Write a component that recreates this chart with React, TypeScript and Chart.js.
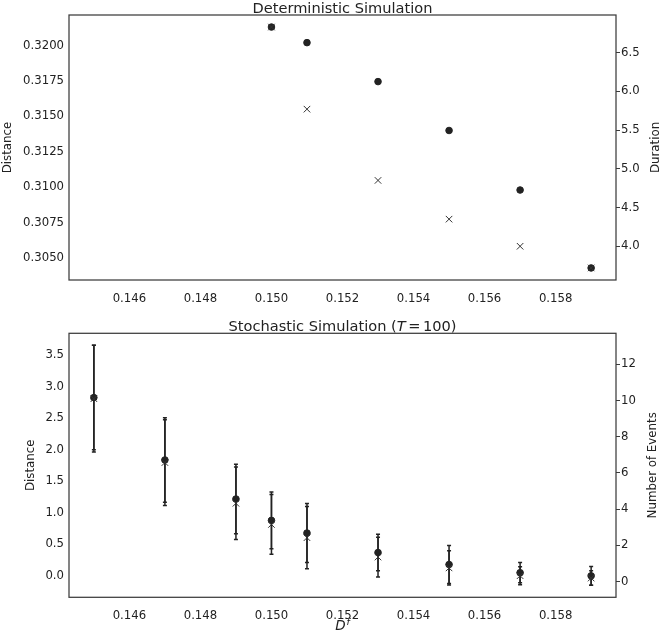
import React, { useEffect, useRef } from "react";
import { Chart, registerables } from "chart.js";

Chart.register(...registerables);

// ---------- data ----------
const xTickValues = [0.146, 0.148, 0.15, 0.152, 0.154, 0.156, 0.158];

const detX = [0.15, 0.151, 0.153, 0.155, 0.157, 0.159];
const detDistance = [0.3213, 0.3202, 0.31745, 0.314, 0.3098, 0.3043];
const detDuration = [6.83, 5.77, 4.85, 4.35, 4.0, 3.72];
const detDistanceTicks = [0.305, 0.3075, 0.31, 0.3125, 0.315, 0.3175, 0.32];
const detDurationTicks = [4.0, 4.5, 5.0, 5.5, 6.0, 6.5];

const stoX = [0.145, 0.147, 0.149, 0.15, 0.151, 0.153, 0.155, 0.157, 0.159];
const stoDistance = [2.83, 1.84, 1.22, 0.88, 0.68, 0.37, 0.18, 0.05, 0.0];
const stoDistanceErr = [0.83, 0.67, 0.55, 0.45, 0.47, 0.29, 0.3, 0.16, 0.15];
const stoEvents = [10.1, 6.57, 4.32, 3.15, 2.42, 1.35, 0.75, 0.32, 0.19];
const stoEventsErr = [2.95, 2.37, 2.0, 1.65, 1.72, 1.1, 0.95, 0.5, 0.4];
const stoDistanceTicks = [0, 0.5, 1.0, 1.5, 2.0, 2.5, 3.0, 3.5];
const stoEventsTicks = [0, 2, 4, 6, 8, 10, 12];

// ---------- style ----------
const FONT = '"DejaVu Sans", sans-serif';
const INK = "#222222";
const FRAME = "#3c3c3c";
const TICK_SIZE = 11.7;
const LABEL_SIZE = 11.8;
const TITLE_SIZE = 14.6;

function padRange(values: number[]): [number, number] {
  const lo = Math.min(...values);
  const hi = Math.max(...values);
  const m = (hi - lo) * 0.05;
  return [lo - m, hi + m];
}

const [xMin, xMax] = padRange(stoX);

function pts(xs: number[], ys: number[]) {
  return xs.map((x, i) => ({ x, y: ys[i] }));
}

const errorBarPlugin = {
  id: "errorBars",
  beforeDatasetsDraw(chart: any) {
    const ctx = chart.ctx;
    chart.data.datasets.forEach((ds: any, i: number) => {
      if (!ds.errors) return;
      const meta = chart.getDatasetMeta(i);
      const xs = chart.scales[meta.xAxisID];
      const ys = chart.scales[meta.yAxisID];
      ctx.save();
      ctx.strokeStyle = INK;
      ctx.lineWidth = 1.5;
      ds.data.forEach((p: any, j: number) => {
        const e = ds.errors[j];
        const px = xs.getPixelForValue(p.x);
        const y1 = ys.getPixelForValue(p.y - e);
        const y2 = ys.getPixelForValue(p.y + e);
        ctx.beginPath();
        ctx.moveTo(px, y1);
        ctx.lineTo(px, y2);
        ctx.moveTo(px - 2, y1);
        ctx.lineTo(px + 2, y1);
        ctx.moveTo(px - 2, y2);
        ctx.lineTo(px + 2, y2);
        ctx.stroke();
      });
      ctx.restore();
    });
  },
};

function drawVertical(ctx: CanvasRenderingContext2D, text: string, xBase: number, yCenter: number) {
  ctx.save();
  ctx.translate(xBase, yCenter);
  ctx.rotate(-Math.PI / 2);
  ctx.font = `${LABEL_SIZE}px ${FONT}`;
  ctx.fillStyle = INK;
  ctx.textAlign = "center";
  ctx.textBaseline = "alphabetic";
  ctx.fillText(text, 0, 0);
  ctx.restore();
}

type Part = { t: string; italic?: boolean; gap?: number };

function drawParts(ctx: CanvasRenderingContext2D, parts: Part[], cx: number, baseline: number, size: number) {
  ctx.save();
  ctx.fillStyle = INK;
  ctx.textBaseline = "alphabetic";
  ctx.textAlign = "left";
  let total = 0;
  const widths = parts.map((p) => {
    ctx.font = `${p.italic ? "italic " : ""}${size}px ${FONT}`;
    const w = ctx.measureText(p.t).width + (p.gap || 0) * 2;
    total += w;
    return w;
  });
  let x = cx - total / 2;
  parts.forEach((p, i) => {
    ctx.font = `${p.italic ? "italic " : ""}${size}px ${FONT}`;
    ctx.fillText(p.t, x + (p.gap || 0), baseline);
    x += widths[i];
  });
  ctx.restore();
}

function makeDecor(opts: {
  title: Part[];
  leftLabel: string;
  leftX: number;
  rightLabel: string;
  rightX: number;
  xLabel?: boolean;
}) {
  return {
    id: "decor",
    afterDraw(chart: any) {
      const ctx: CanvasRenderingContext2D = chart.ctx;
      const a = chart.chartArea;
      ctx.save();
      ctx.strokeStyle = FRAME;
      ctx.lineWidth = 1.25;
      ctx.strokeRect(a.left, a.top, a.right - a.left, a.bottom - a.top);
      ctx.restore();
      const cx = (a.left + a.right) / 2;
      const cy = (a.top + a.bottom) / 2;
      drawParts(ctx, opts.title, cx, a.top - 2.5, TITLE_SIZE);
      drawVertical(ctx, opts.leftLabel, opts.leftX, cy);
      drawVertical(ctx, opts.rightLabel, opts.rightX, cy);
      if (opts.xLabel) {
        ctx.save();
        ctx.fillStyle = INK;
        ctx.textAlign = "left";
        ctx.textBaseline = "alphabetic";
        ctx.font = `italic 13.5px ${FONT}`;
        const dW = ctx.measureText("D").width;
        ctx.font = `italic 9.5px ${FONT}`;
        const fW = ctx.measureText("f").width;
        const x0 = cx - (dW + fW + 1) / 2;
        const base = chart.height - 6;
        ctx.font = `italic 13.5px ${FONT}`;
        ctx.fillText("D", x0, base);
        ctx.font = `italic 9.5px ${FONT}`;
        ctx.fillText("f", x0 + dW + 1, base - 5.5);
        ctx.restore();
      }
    },
  };
}

function tickFont() {
  return { family: FONT, size: TICK_SIZE };
}

function xScale(height: number) {
  return {
    type: "linear",
    position: "bottom",
    min: xMin,
    max: xMax,
    afterBuildTicks: (s: any) => {
      s.ticks = xTickValues.map((v) => ({ value: v }));
    },
    afterFit: (s: any) => {
      s.height = height;
    },
    grid: { display: false },
    border: { display: false },
    ticks: {
      font: tickFont(),
      color: INK,
      padding: 3.5,
      maxRotation: 0,
      autoSkip: false,
      callback: (v: any) => Number(v).toFixed(3),
    },
  };
}

function leftScale(range: [number, number], tickVals: number[], digits: number) {
  return {
    type: "linear",
    position: "left",
    min: range[0],
    max: range[1],
    afterBuildTicks: (s: any) => {
      s.ticks = tickVals.map((v) => ({ value: v }));
    },
    afterFit: (s: any) => {
      s.width = 69;
    },
    grid: { display: false, drawTicks: false },
    border: { display: false },
    ticks: {
      font: tickFont(),
      color: INK,
      padding: 5,
      autoSkip: false,
      callback: (v: any) => Number(v).toFixed(digits),
    },
  };
}

function rightScale(range: [number, number], tickVals: number[], digits: number) {
  return {
    type: "linear",
    position: "right",
    min: range[0],
    max: range[1],
    afterBuildTicks: (s: any) => {
      s.ticks = tickVals.map((v) => ({ value: v }));
    },
    afterFit: (s: any) => {
      s.width = 44;
    },
    grid: {
      display: true,
      drawOnChartArea: false,
      drawTicks: true,
      tickLength: 4,
      color: FRAME,
      lineWidth: 1,
    },
    border: { display: false },
    ticks: {
      font: tickFont(),
      color: INK,
      padding: 1,
      autoSkip: false,
      callback: (v: any) => Number(v).toFixed(digits),
    },
  };
}

const circleStyle = {
  pointStyle: "circle",
  pointRadius: 3.3,
  pointBackgroundColor: INK,
  pointBorderColor: INK,
  pointBorderWidth: 1,
  showLine: false,
};

const crossStyle = {
  pointStyle: "crossRot",
  pointRadius: 4.6,
  pointBorderColor: "#333333",
  pointBackgroundColor: "#333333",
  pointBorderWidth: 1,
  showLine: false,
};

function topConfig(): any {
  return {
    type: "scatter",
    data: {
      datasets: [
        { label: "Duration", data: pts(detX, detDuration), yAxisID: "y1", ...crossStyle },
        { label: "Distance", data: pts(detX, detDistance), yAxisID: "y", ...circleStyle },
      ],
    },
    options: {
      responsive: false,
      animation: false,
      devicePixelRatio: 1,
      layout: { padding: { top: 15, left: 0, right: 0, bottom: 0 } },
      plugins: { legend: { display: false }, tooltip: { enabled: false }, title: { display: false } },
      scales: {
        x: xScale(30),
        y: leftScale(padRange(detDistance), detDistanceTicks, 4),
        y1: rightScale(padRange(detDuration), detDurationTicks, 1),
      },
    },
    plugins: [
      makeDecor({
        title: [{ t: "Deterministic Simulation" }],
        leftLabel: "Distance",
        leftX: 11,
        rightLabel: "Duration",
        rightX: 659,
      }),
    ],
  };
}

function bottomConfig(): any {
  const distRange = padRange([
    ...stoDistance.map((v, i) => v - stoDistanceErr[i]),
    ...stoDistance.map((v, i) => v + stoDistanceErr[i]),
  ]);
  const evRange = padRange([
    ...stoEvents.map((v, i) => v - stoEventsErr[i]),
    ...stoEvents.map((v, i) => v + stoEventsErr[i]),
  ]);
  return {
    type: "scatter",
    data: {
      datasets: [
        {
          label: "Number of Events",
          data: pts(stoX, stoEvents),
          errors: stoEventsErr,
          yAxisID: "y1",
          ...crossStyle,
        },
        {
          label: "Distance",
          data: pts(stoX, stoDistance),
          errors: stoDistanceErr,
          yAxisID: "y",
          ...circleStyle,
        },
      ],
    },
    options: {
      responsive: false,
      animation: false,
      devicePixelRatio: 1,
      layout: { padding: { top: 23.3, left: 0, right: 0, bottom: 0 } },
      plugins: { legend: { display: false }, tooltip: { enabled: false }, title: { display: false } },
      scales: {
        x: xScale(38.7),
        y: leftScale(distRange, stoDistanceTicks, 1),
        y1: rightScale(evRange, stoEventsTicks, 0),
      },
    },
    plugins: [
      errorBarPlugin,
      makeDecor({
        title: [
          { t: "Stochastic Simulation (" },
          { t: "T", italic: true },
          { t: "=", gap: 2.5 },
          { t: "100)" },
        ],
        leftLabel: "Distance",
        leftX: 34,
        rightLabel: "Number of Events",
        rightX: 656,
        xLabel: true,
      }),
    ],
  };
}

function ChartCanvas({ make, top, height }: { make: () => any; top: number; height: number }) {
  const ref = useRef<HTMLCanvasElement | null>(null);
  useEffect(() => {
    if (!ref.current) return;
    const chart = new Chart(ref.current, make());
    return () => chart.destroy();
  }, []);
  return (
    <canvas
      ref={ref}
      width={660}
      height={height}
      style={{ position: "absolute", left: 0, top, width: 660, height, display: "block" }}
    />
  );
}

export default function App() {
  return (
    <div style={{ position: "absolute", left: 0, top: 0, width: 660, height: 636, background: "#ffffff" }}>
      <ChartCanvas make={topConfig} top={0} height={310} />
      <ChartCanvas make={bottomConfig} top={310} height={326} />
    </div>
  );
}
